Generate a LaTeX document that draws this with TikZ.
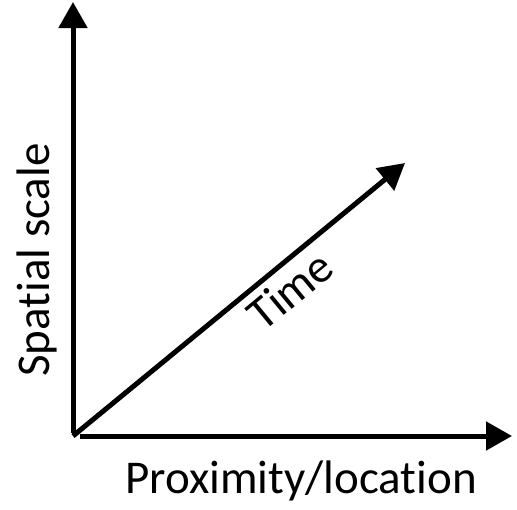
\documentclass[tikz,border=0pt]{standalone}
\usepackage{fontspec}
\setmainfont{Carlito}[Ligatures=NoCommon]
\usetikzlibrary{arrows.meta}
\begin{document}
\begin{tikzpicture}[x=1pt,y=-1pt,
  axis/.style={line width=5pt,-{Triangle[length=26pt,width=28pt]}},
  lbl/.style={font=\fontsize{47}{51}\selectfont, inner sep=0pt}]
\useasboundingbox (0,0) rectangle (517,509);
\coordinate (o) at (73,436);
\coordinate (ov) at (73,433);
\coordinate (oh) at (80,436);
\coordinate (top) at (73,2);
\coordinate (right) at (512,436);
\coordinate (diag) at (405,163);
\draw[axis] (ov) -- (top);
\draw[axis] (oh) -- (right);
\draw[axis] (o) -- (diag);
\node[lbl, rotate=90, anchor=base] (ss) at (49,260) {Spatial scale};
\node[lbl, anchor=base] (pl) at (301,493) {Proximity/location};
\node[lbl, rotate=39.5] (tm) at (290,290) {Time};
\end{tikzpicture}
\end{document}
